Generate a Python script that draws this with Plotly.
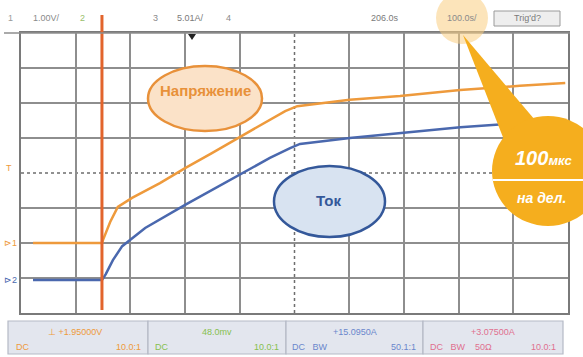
import plotly.graph_objects as go

# Осциллограмма: 10 делений по времени (100 мкс/дел), 8 делений по вертикали
time_div = [0.22, 1.48, 1.50, 1.63, 1.77, 2.03, 2.54, 3.00, 3.49, 3.97, 4.52, 4.83, 5.05, 6.01, 6.93, 8.03, 9.12, 9.95]
voltage_div = [2.0, 2.0, 2.09, 2.6, 3.03, 3.29, 3.71, 4.14, 4.57, 5.0, 5.49, 5.77, 5.91, 6.09, 6.2, 6.37, 6.49, 6.57]

time_div_i = [0.22, 1.48, 1.55, 1.68, 1.85, 2.27, 3.00, 3.49, 3.97, 4.55, 4.92, 5.10, 6.01, 6.93, 8.03, 9.12, 9.95]
current_div = [0.94, 0.94, 1.11, 1.51, 1.91, 2.43, 3.09, 3.51, 3.94, 4.43, 4.71, 4.83, 5.0, 5.14, 5.31, 5.43, 5.51]

trigger_div = 1.48

W, H = 583, 357
L, R, T, B = 21, 15, 33, 44
PW, PH = W - L - R, H - T - B

ORANGE = "#EE9A3C"
BLUE = "#4A68AE"
TRIG = "#E2642C"
GRID = "#8e8e8e"
FONT = "Liberation Sans Narrow, Liberation Sans, Arial, sans-serif"


def fx(px):
    return (px - L) / PW


def fy(py):
    return (H - B - py) / PH


fig = go.Figure()
fig.add_trace(go.Scatter(x=time_div, y=voltage_div, mode="lines",
                         line=dict(color=ORANGE, width=2.5), hoverinfo="skip"))
fig.add_trace(go.Scatter(x=time_div_i, y=current_div, mode="lines",
                         line=dict(color=BLUE, width=2.5), hoverinfo="skip"))

shapes = []
# центральные пунктирные линии
shapes.append(dict(type="line", xref="x", yref="y", x0=5, x1=5, y0=0, y1=8,
                   line=dict(color="#6e6e6e", width=1.5, dash="dot"), layer="below"))
shapes.append(dict(type="line", xref="x", yref="y", x0=0, x1=10, y0=4, y1=4,
                   line=dict(color="#6e6e6e", width=1.5, dash="dot"), layer="below"))
# линия запуска
shapes.append(dict(type="line", xref="x", yref="paper", x0=trigger_div, x1=trigger_div,
                   y0=fy(310), y1=fy(15), line=dict(color=TRIG, width=3)))
# верхняя линия шапки
shapes.append(dict(type="line", xref="paper", yref="paper", x0=fx(4), x1=fx(570),
                   y0=fy(33), y1=fy(33), line=dict(color="#8e8e8e", width=1.5)))
# эллипсы-подписи
shapes.append(dict(type="circle", xref="paper", yref="paper",
                   x0=fx(148), x1=fx(262), y0=fy(131), y1=fy(66),
                   fillcolor="#FBE2C8", line=dict(color="#E8913A", width=2.5)))
shapes.append(dict(type="circle", xref="paper", yref="paper",
                   x0=fx(274), x1=fx(385), y0=fy(237), y1=fy(166),
                   fillcolor="#D8E3F1", line=dict(color="#34589A", width=2.5)))
# подсветка 100.0s/
shapes.append(dict(type="circle", xref="paper", yref="paper",
                   x0=fx(436), x1=fx(488), y0=fy(44), y1=fy(-8),
                   fillcolor="rgba(250,205,130,0.55)", line=dict(width=0)))
# выноска
shapes.append(dict(type="path", xref="paper", yref="paper",
                   path=f"M {fx(463)},{fy(35)} L {fx(506)},{fy(145)} L {fx(535)},{fy(120)} Z",
                   fillcolor="#F5AE1E", line=dict(width=0)))
shapes.append(dict(type="circle", xref="paper", yref="paper",
                   x0=fx(492), x1=fx(604), y0=fy(226), y1=fy(116),
                   fillcolor="#F5AE1E", line=dict(width=0)))
shapes.append(dict(type="line", xref="paper", yref="paper", x0=fx(493), x1=fx(583),
                   y0=fy(180), y1=fy(180), line=dict(color="white", width=2)))
# маркер запуска
shapes.append(dict(type="path", xref="paper", yref="paper",
                   path=f"M {fx(188)},{fy(34)} L {fx(196)},{fy(34)} L {fx(192)},{fy(40)} Z",
                   fillcolor="#222", line=dict(width=0)))
# Trig'd? рамка
shapes.append(dict(type="rect", xref="paper", yref="paper", x0=fx(494), x1=fx(560),
                   y0=fy(26), y1=fy(11), fillcolor="#eeeeee", line=dict(color="#9a9a9a", width=1)))
# нижние панели каналов
box_edges = [8, 148, 286, 423, 563]
for i in range(4):
    shapes.append(dict(type="rect", xref="paper", yref="paper",
                       x0=fx(box_edges[i]), x1=fx(box_edges[i + 1]), y0=fy(354), y1=fy(321),
                       fillcolor="#E3E6EE", line=dict(color="#B5BAC6", width=1.2)))

ann = []


def txt(px, py, s, color, size, anchor="center", bold=False, italic=False):
    if italic:
        s = f"<i>{s}</i>"
    if bold:
        s = f"<b>{s}</b>"
    ann.append(dict(x=fx(px), y=fy(py), xref="paper", yref="paper", text=s, showarrow=False,
                    xanchor=anchor, yanchor="middle", font=dict(color=color, size=size, family=FONT)))


# шапка
txt(10, 18, "1", "#9a9a9a", 9)
txt(46, 18, "1.00V/", "#8a8a8a", 9)
txt(82, 18, "2", "#9ac06a", 9)
txt(155, 18, "3", "#8a8a8a", 9)
txt(190, 18, "5.01A/", "#7a7a7a", 9)
txt(228, 18, "4", "#8a8a8a", 9)
txt(385, 18, "206.0s", "#7a7a7a", 9)
txt(462, 18, "100.0s/", "#8a8a8a", 9)
txt(527, 18, "Trig'd?", "#7a7a7a", 9)

# маркеры уровней
txt(9, 168, "T", ORANGE, 9)
txt(10, 243, "⊳1", ORANGE, 9)
txt(10, 280, "⊳2", BLUE, 9)

# подписи
txt(205, 90, "Напряжение", "#E8913A", 15, bold=True)
txt(328, 200, "Ток", "#34589A", 15, bold=True)
txt(544, 158, "100<span style='font-size:13px'>мкс</span>", "white", 20, bold=True, italic=True)
txt(541, 198, "на дел.", "white", 14, bold=True, italic=True)

# нижние панели
txt(75, 332, "⊥ +1.95000V", "#EE9A3C", 9)
txt(14, 347, "DC", "#EE9A3C", 9, anchor="left")
txt(143, 347, "10.0:1", "#EE9A3C", 9, anchor="right")
txt(217, 332, "48.0mv", "#86C04E", 9)
txt(153, 347, "DC", "#86C04E", 9, anchor="left")
txt(281, 347, "10.0:1", "#86C04E", 9, anchor="right")
txt(355, 332, "+15.0950A", "#6A86CC", 9)
txt(290, 347, "DC   BW", "#6A86CC", 9, anchor="left")
txt(418, 347, "50.1:1", "#6A86CC", 9, anchor="right")
txt(493, 332, "+3.07500A", "#E0708E", 9)
txt(428, 347, "DC   BW    50Ω", "#E0708E", 9, anchor="left")
txt(558, 347, "10.0:1", "#E0708E", 9, anchor="right")

fig.update_layout(
    width=W, height=H,
    margin=dict(l=L, r=R, t=T, b=B),
    paper_bgcolor="white", plot_bgcolor="white",
    showlegend=False,
    xaxis=dict(range=[0, 10], tickvals=[1, 2, 3, 4, 6, 7, 8, 9], showticklabels=False, ticks="",
               showgrid=True, gridcolor=GRID, gridwidth=1.5, zeroline=False,
               showline=True, mirror=True, linecolor="#7a7a7a", linewidth=1.5, fixedrange=True),
    yaxis=dict(range=[0, 8], tickvals=[1, 2, 3, 5, 6, 7], showticklabels=False, ticks="",
               showgrid=True, gridcolor=GRID, gridwidth=1.5, zeroline=False,
               showline=True, mirror=True, linecolor="#7a7a7a", linewidth=1.5, fixedrange=True),
    shapes=shapes,
    annotations=ann,
)

fig.write_html("out.html", config={"displayModeBar": False},
               post_script="document.body.style.margin='0';document.body.style.overflow='hidden';")
